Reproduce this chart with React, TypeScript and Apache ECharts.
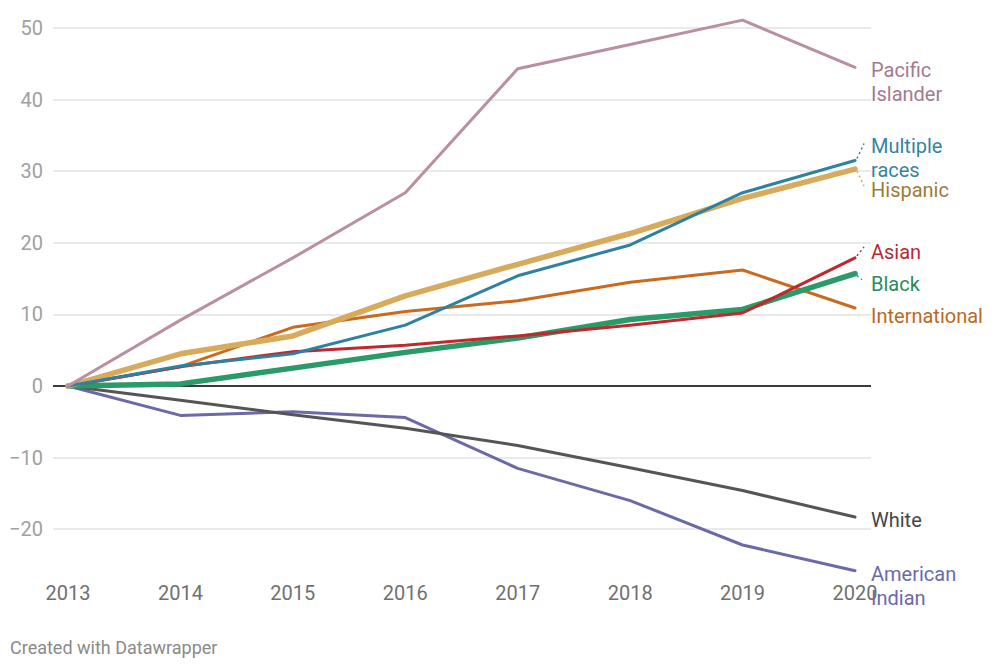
import React, { useEffect, useRef } from "react";
import * as echarts from "echarts";

const years = [2013, 2014, 2015, 2016, 2017, 2018, 2019, 2020];
const yTicks = [-20, -10, 0, 10, 20, 30, 40, 50];

const pacificIslander = [0, 9.2, 17.9, 27.0, 44.3, 47.7, 51.1, 44.5];
const multipleRaces = [0, 2.8, 4.5, 8.5, 15.4, 19.7, 27.0, 31.5];
const hispanic = [0, 4.5, 7.0, 12.6, 17.0, 21.3, 26.2, 30.3];
const asian = [0, 2.7, 4.8, 5.7, 7.0, 8.5, 10.2, 17.9];
const black = [0, 0.3, 2.5, 4.7, 6.7, 9.3, 10.7, 15.7];
const international = [0, 2.7, 8.2, 10.4, 11.9, 14.5, 16.2, 10.9];
const white = [0, -2.0, -4.0, -5.9, -8.3, -11.4, -14.6, -18.3];
const americanIndian = [0, -4.1, -3.6, -4.4, -11.5, -16.0, -22.2, -25.8];

const seriesDefs = [
  { name: "Pacific\nIslander", data: pacificIslander, color: "#b98fa3", label: "#a27b90", width: 3, dy: 15, leader: null },
  { name: "Multiple\nraces", data: multipleRaces, color: "#2e82a1", label: "#3683a0", width: 3, dy: -2, leader: [9, -17] },
  { name: "Hispanic", data: hispanic, color: "#d7aa5c", label: "#9c7c36", width: 5.5, dy: 21, leader: [9, 17] },
  { name: "Asian", data: asian, color: "#c1272d", label: "#b72a30", width: 3, dy: -6, leader: [9, -11] },
  { name: "Black", data: black, color: "#2b9a69", label: "#2b8a5f", width: 5.5, dy: 10, leader: [7, 6] },
  { name: "International", data: international, color: "#c96a1f", label: "#ba681f", width: 3, dy: 8, leader: null },
  { name: "White", data: white, color: "#555555", label: "#454545", width: 3, dy: 3, leader: null },
  { name: "American\nIndian", data: americanIndian, color: "#6c69a8", label: "#6b69a8", width: 3, dy: 15, leader: null },
];

const PX_PER_YEAR = 112.43;
const PX_PER_UNIT = 7.16;

export default function App() {
  const ref = useRef<HTMLDivElement>(null);
  useEffect(() => {
    if (!ref.current) return;
    const chart = echarts.init(ref.current, null, { renderer: "svg" });
    const font = "Roboto, 'Noto Sans', sans-serif";
    const lastYear = years[years.length - 1];
    const series: any[] = seriesDefs.map((s, idx) => {
      const last = s.data[s.data.length - 1];
      const out: any = {
        type: "line",
        name: s.name,
        data: years.map((y, i) => [y, s.data[i]]),
        showSymbol: false,
        symbol: "none",
        z: 10 - idx,
        lineStyle: { color: s.color, width: s.width, cap: "round", join: "round" },
        itemStyle: { color: s.color },
        endLabel: {
          show: true,
          formatter: () => s.name,
          distance: 0,
          offset: [16, s.dy],
          color: s.label,
          fontFamily: font,
          fontSize: 20,
          lineHeight: 24,
          align: "left",
          verticalAlign: "middle",
        },
        emphasis: { disabled: true },
      };
      if (s.leader) {
        out.markLine = {
          silent: true,
          symbol: "none",
          label: { show: false },
          lineStyle: { color: s.color, type: [2, 3], width: 1.5 },
          data: [
            [
              { coord: [lastYear + 2 / PX_PER_YEAR, last - (Math.sign(s.leader[1]) * 2) / PX_PER_UNIT] },
              { coord: [lastYear + s.leader[0] / PX_PER_YEAR, last - s.leader[1] / PX_PER_UNIT] },
            ],
          ],
        };
      }
      return out;
    });
    series.push({
      type: "line",
      data: [],
      z: 1,
      markLine: {
        silent: true,
        symbol: "none",
        label: { show: false },
        lineStyle: { color: "#000", type: "solid", width: 1.5 },
        data: [{ yAxis: 0 }],
      },
    });
    chart.setOption({
      animation: false,
      backgroundColor: "#ffffff",
      grid: { left: 53, right: 129, top: 13.7, bottom: 97.8, containLabel: false },
      xAxis: {
        type: "value",
        min: 2013 - 15 / PX_PER_YEAR,
        max: 2020 + 16 / PX_PER_YEAR,
        axisLine: { show: false },
        axisTick: { show: false, customValues: years },
        splitLine: { show: false },
        axisLabel: {
          customValues: years,
          formatter: (v: number) => String(v),
          color: "#707070",
          fontFamily: font,
          fontSize: 20,
          margin: 11,
        },
      },
      yAxis: {
        type: "value",
        min: -26,
        max: 52,
        axisLine: { show: false },
        axisTick: { show: false, customValues: yTicks },
        splitLine: { show: true, lineStyle: { color: "#e3e3e3", width: 1.5 } },
        axisLabel: {
          customValues: yTicks,
          formatter: (v: number) => String(v).replace("-", "\u2212"),
          color: "#a0a0a0",
          fontFamily: font,
          fontSize: 20,
          margin: 10,
        },
      },
      graphic: [
        {
          type: "text",
          left: 10,
          top: 638,
          style: {
            text: "Created with Datawrapper",
            fill: "#8a8a8a",
            font: `18px ${font}`,
          },
        },
      ],
      series,
    });
    return () => chart.dispose();
  }, []);
  return (
    <div
      ref={ref}
      style={{ position: "absolute", left: 0, top: 0, width: 1000, height: 670 }}
    />
  );
}
